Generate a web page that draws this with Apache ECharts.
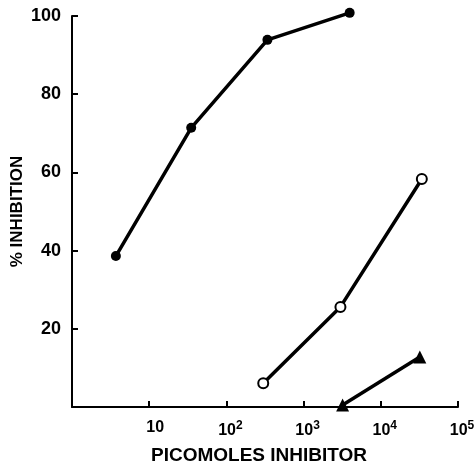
<!DOCTYPE html>
<html>
<head>
<meta charset="utf-8">
<script src="https://cdn.jsdelivr.net/npm/echarts@6/dist/echarts.min.js"></script>
<style>html,body{margin:0;padding:0;background:#fff}#c{width:476px;height:466px}</style>
</head>
<body>
<div id="c"></div>
<script>
// Filled circles
const filledX = [3.7, 35, 340, 3950];
const filledY = [38.6, 71.4, 93.9, 100.8];
// Open circles
const openX = [300, 3000, 34000];
const openY = [6.1, 25.6, 58.3];
// Filled triangles
const triX = [3200, 32000];
const triY = [0.5, 12.8];
const xTickExponents = [1, 2, 3, 4, 5];
const yTicks = [20, 40, 60, 80, 100];

const FONT = 'Liberation Sans, Arial, sans-serif';
const pairs = (xs, ys) => xs.map((x, i) => [x, ys[i]]);

const chart = echarts.init(document.getElementById('c'), null, {renderer: 'canvas'});
chart.setOption({
  animation: false,
  backgroundColor: '#fff',
  grid: {left: 72, right: 18, top: 16, bottom: 59, containLabel: false, outerBoundsMode: 'none'},
  xAxis: {
    type: 'log', logBase: 10, min: 1, max: 100000,
    name: 'PICOMOLES INHIBITOR', nameLocation: 'middle', nameGap: 39, nameMoveOverlap: false,
    nameTextStyle: {fontFamily: FONT, fontWeight: 'bold', fontSize: 19, color: '#000', padding: [0, 12, 0, 0]},
    axisLine: {lineStyle: {color: '#000', width: 2}},
    axisTick: {inside: true, length: 6, lineStyle: {color: '#000', width: 2}},
    splitLine: {show: false},
    axisLabel: {
      margin: 13, color: '#000', fontFamily: FONT, fontSize: 16, fontWeight: 'bold',
      formatter: function (v) {
        const e = Math.round(Math.log10(v));
        if (xTickExponents.indexOf(e) < 0) return '';
        if (e === 1) return '{q|}{b|10}';
        return '{p|}{b|10}{s|' + e + '}';
      },
      rich: {
        b: {fontSize: 16, fontWeight: 'bold', fontFamily: FONT, color: '#000'},
        p: {width: 8},
        q: {width: 12},
        s: {fontSize: 12, fontWeight: 'bold', fontFamily: FONT, color: '#000', verticalAlign: 'bottom', padding: [0, 0, 9, 0]}
      }
    }
  },
  yAxis: {
    type: 'value', min: 0, max: 100, interval: 20,
    name: '% INHIBITION', nameLocation: 'middle', nameGap: 46, nameRotate: 90, nameMoveOverlap: false,
    nameTextStyle: {fontFamily: FONT, fontWeight: 'bold', fontSize: 17, color: '#000'},
    axisLine: {show: true, lineStyle: {color: '#000', width: 2}},
    axisTick: {show: true, inside: true, length: 6, lineStyle: {color: '#000', width: 2}},
    splitLine: {show: false},
    axisLabel: {
      margin: 11, color: '#000', fontFamily: FONT, fontSize: 18, fontWeight: 'bold',
      formatter: function (v) { return yTicks.indexOf(v) >= 0 ? String(v) : ''; }
    }
  },
  series: [
    {type: 'line', data: pairs(filledX, filledY), symbol: 'circle', symbolSize: 10, clip: false,
     lineStyle: {color: '#000', width: 3.5}, itemStyle: {color: '#000'}},
    {type: 'line', data: pairs(openX, openY), symbol: 'circle', symbolSize: 10, clip: false,
     lineStyle: {color: '#000', width: 3.5}, itemStyle: {color: '#fff', borderColor: '#000', borderWidth: 2}},
    {type: 'line', data: pairs(triX, triY), symbol: 'triangle', symbolSize: 13, clip: false,
     lineStyle: {color: '#000', width: 3.5}, itemStyle: {color: '#000'}}
  ]
});
</script>
</body>
</html>
